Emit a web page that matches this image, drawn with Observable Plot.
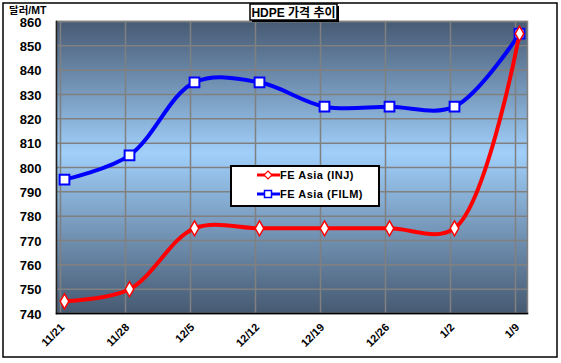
<!DOCTYPE html>
<html>
<head>
<meta charset="utf-8">
<script src="https://cdn.jsdelivr.net/npm/d3@7"></script>
<script src="https://cdn.jsdelivr.net/npm/@observablehq/plot@0.6"></script>
<style>
  html, body { margin: 0; padding: 0; background: white; }
</style>
</head>
<body>
<div id="chart"></div>
<script>
const dates = ["11/21", "11/28", "12/5", "12/12", "12/19", "12/26", "1/2", "1/9"];
const injValues = [745, 750, 775, 775, 775, 775, 775, 855];
const filmValues = [795, 805, 835, 835, 825, 825, 825, 855];
const yTicks = [740, 750, 760, 770, 780, 790, 800, 810, 820, 830, 840, 850, 860];
const seriesNames = ["FE Asia (INJ)", "FE Asia (FILM)"];
const titleText = "HDPE 가격 추이";
const unitText = "달러/MT";

const inj = dates.map((d, i) => ({date: d, value: injValues[i]}));
const film = dates.map((d, i) => ({date: d, value: filmValues[i]}));

const font = "Arial, 'Liberation Sans', 'Noto Sans CJK KR', sans-serif";

const svg = Plot.plot({
  width: 561,
  height: 363,
  marginLeft: 56,
  marginRight: 34,
  marginTop: 21,
  marginBottom: 50,
  style: {fontFamily: font, fontWeight: "bold", fontSize: "12px", color: "black", background: "white", overflow: "visible"},
  x: {type: "point", domain: dates, padding: 0.07, label: null},
  y: {domain: [740, 860], label: null},
  marks: [
    Plot.frame({fill: "url(#bgGrad)"}),
    Plot.gridY(yTicks, {stroke: "#808080", strokeOpacity: 1, strokeWidth: 1.5}),
    Plot.ruleX(dates, {x: d => d, dx: -4, stroke: "#808080", strokeWidth: 1.5}),
    Plot.frame({stroke: "#808080", strokeWidth: 1.5}),
    Plot.frame({anchor: "left", stroke: "#222", strokeWidth: 1.5}),
    Plot.frame({anchor: "bottom", stroke: "black", strokeWidth: 1.5}),
    Plot.axisY(yTicks, {tickSize: 0, tickPadding: 15, fontSize: 13, fontWeight: "bold", fill: "black", label: null, dy: 1}),
    Plot.axisX(dates, {tickSize: 0, tickPadding: 12, tickRotate: -45, fontSize: 11, fontWeight: "bold", fill: "black", dx: -2, label: null}),
    Plot.line(film, {x: "date", y: "value", stroke: "#0000ff", strokeWidth: 4, curve: "catmull-rom"}),
    Plot.line(inj, {x: "date", y: "value", stroke: "#ff0000", strokeWidth: 4, curve: "catmull-rom"}),
    Plot.dot(film, {x: "date", y: "value", symbol: "square", r: 5.5, fill: "white", stroke: "#0000ff", strokeWidth: 2}),
    Plot.dot(inj, {x: "date", y: "value", symbol: "diamond", r: 4.5, fill: "white", stroke: "#ff0000", strokeWidth: 1.5})
  ]
});

const s = d3.select(svg);
const defs = s.insert("defs", ":first-child");
const grad = defs.append("linearGradient").attr("id", "bgGrad").attr("x1", 0).attr("y1", 0).attr("x2", 0).attr("y2", 1);
grad.append("stop").attr("offset", "0").attr("stop-color", "#475a73");
grad.append("stop").attr("offset", "0.45").attr("stop-color", "#a0cffa");
grad.append("stop").attr("offset", "1").attr("stop-color", "#465971");

// outer border
s.append("rect").attr("x", 3).attr("y", 3).attr("width", 554).attr("height", 354)
  .attr("fill", "none").attr("stroke", "black").attr("stroke-width", 1.5);

// unit label
s.append("text").attr("x", 9).attr("y", 14).attr("font-size", 10.5).attr("font-weight", "bold")
  .attr("text-anchor", "start").attr("font-family", font).attr("fill", "black").text(unitText);

// title box
s.append("rect").attr("x", 252).attr("y", 6).attr("width", 87).attr("height", 16).attr("fill", "black");
s.append("rect").attr("x", 250).attr("y", 4).attr("width", 87).attr("height", 16)
  .attr("fill", "white").attr("stroke", "black").attr("stroke-width", 1.5);
s.append("text").attr("x", 293.5).attr("y", 16.5).attr("text-anchor", "middle").attr("font-size", 12)
  .attr("font-weight", "bold").attr("font-family", font).attr("fill", "black").text(titleText);

// legend
const lg = s.append("g");
lg.append("rect").attr("x", 231).attr("y", 166).attr("width", 148).attr("height", 40)
  .attr("fill", "white").attr("stroke", "black").attr("stroke-width", 2);
const items = [
  {name: seriesNames[0], color: "#ff0000", y: 175, sym: "diamond"},
  {name: seriesNames[1], color: "#0000ff", y: 194, sym: "square"}
];
items.forEach(it => {
  lg.append("line").attr("x1", 257).attr("x2", 280).attr("y1", it.y).attr("y2", it.y)
    .attr("stroke", it.color).attr("stroke-width", 3);
  if (it.sym === "square") {
    lg.append("rect").attr("x", 264.5).attr("y", it.y - 3.5).attr("width", 7).attr("height", 7)
      .attr("fill", "white").attr("stroke", it.color).attr("stroke-width", 1.5);
  } else {
    lg.append("path").attr("d", `M268,${it.y - 4}L272,${it.y}L268,${it.y + 4}L264,${it.y}Z`)
      .attr("fill", "white").attr("stroke", it.color).attr("stroke-width", 1.2);
  }
  lg.append("text").attr("x", 280).attr("y", it.y + 4).attr("font-size", 11).attr("font-weight", "bold")
    .attr("text-anchor", "start").attr("font-family", font).attr("fill", "black").attr("letter-spacing", "0.5").text(it.name);
});

document.getElementById("chart").appendChild(svg);
</script>
</body>
</html>
